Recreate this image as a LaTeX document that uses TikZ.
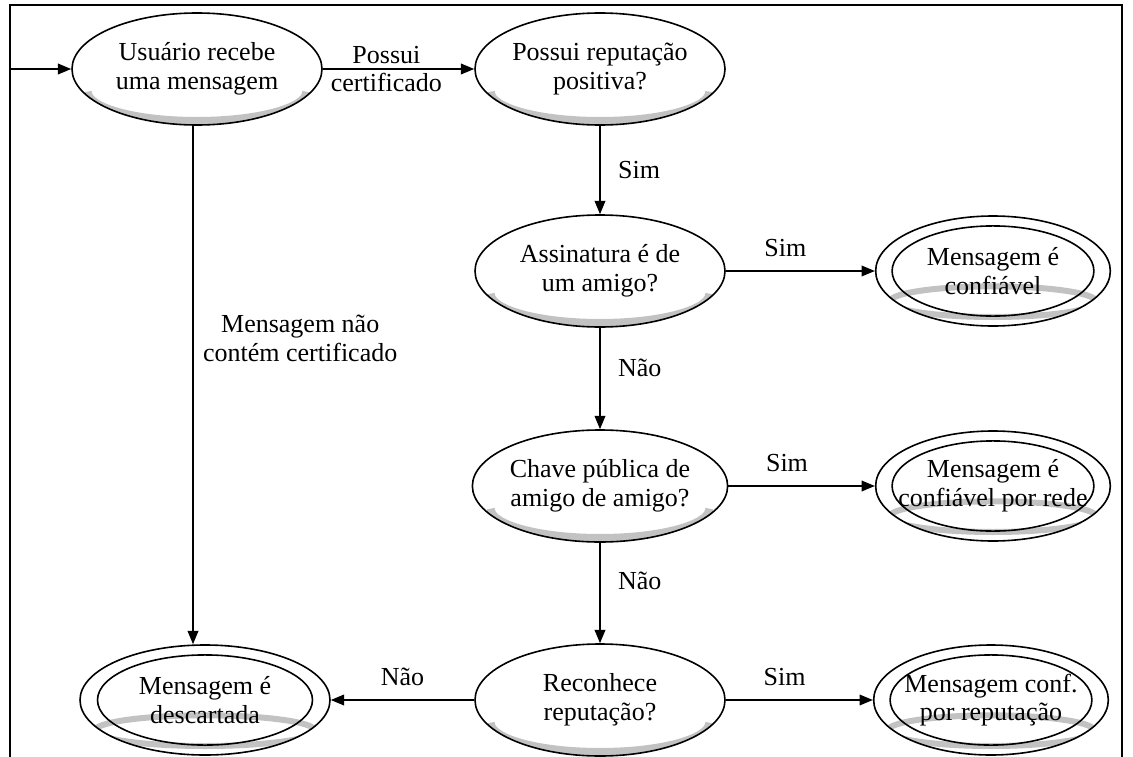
\documentclass[tikz,border=0pt]{standalone}
\usepackage{fontspec}
\setmainfont{Liberation Serif}
\usetikzlibrary{arrows.meta,shapes.geometric}
\definecolor{shadowgray}{gray}{0.76}
\begin{document}
\begin{tikzpicture}[x=0.75pt,y=-0.75pt,
  every node/.style={font=\fontsize{19.5}{21.5}\selectfont},
  state/.style={ellipse, draw, line width=1.2pt, fill=white,
    minimum width=187.5pt, minimum height=84pt, inner sep=0pt, align=center,
    path picture={
      \draw[draw=shadowgray, line width=6pt]
        ([shift={(-82pt,-17pt)}]path picture bounding box.center)
        arc[start angle=180, end angle=360, x radius=82pt, y radius=22pt];}},
  final/.style={ellipse, draw, line width=1.2pt, fill=white,
    minimum width=#1, minimum height=82.5pt, inner sep=0pt, inner xsep=-25pt,
    align=center,
    path picture={
      \draw[draw=shadowgray, line width=4.5pt]
        ([yshift=-23pt]path picture bounding box.center)
        ellipse[x radius=0.44*#1, y radius=11.5pt];
      \draw[line width=1.2pt] (path picture bounding box.center)
        ellipse[x radius=0.43*#1, y radius=33.8pt];}},
  arr/.style={line width=1.2pt, -{Triangle[length=10pt,width=8pt]}},
  lbl/.style={align=center, inner sep=1pt}]

\useasboundingbox (0,0) rectangle (1133,757);

% open frame around the flow
\draw[line width=1.6pt] (10,757) -- (10,5) -- (1122,5) -- (1122,757);

% states
\node[state] (recv) at (197,69) {Usuário recebe\\uma mensagem};
\node[state] (rep)  at (600,69) {Possui reputação\\positiva?};
\node[state] (sig)  at (600,271) {Assinatura é de\\um amigo?};
\node[state] (key)  at (600,486) {Chave pública de\\amigo de amigo?};
\node[state] (know) at (600,700) {Reconhece\\reputação?};

% final states
\node[final=187.5pt] (drop) at (205,700) {Mensagem é\\descartada};
\node[final=176pt] (ok)   at (993,271) {Mensagem é\\confiável};
\node[final=176pt] (okn)  at (993,486) {Mensagem é\\confiável por rede};
\node[final=176pt] (okr)  at (991,700) {Mensagem conf.\\por reputação};

\coordinate (entry) at (10,69);

% transitions
\draw[arr] (entry) -- (recv);
\draw[arr] (recv) -- node[lbl, pos=0.42] {Possui\\certificado} (rep);
\draw[arr] (rep) -- node[lbl, pos=0.5, anchor=west, xshift=12pt] {Sim} (sig);
\draw[arr] (sig) -- node[lbl, pos=0.4, above=9pt] {Sim} (ok);
\draw[arr] (sig) -- node[lbl, pos=0.4, anchor=west, xshift=12pt] {Não} (key);
\draw[arr] (key) -- node[lbl, pos=0.4, above=9pt] {Sim} (okn);
\draw[arr] (key) -- node[lbl, pos=0.38, anchor=west, xshift=12pt] {Não} (know);
\draw[arr] (know) -- node[lbl, pos=0.4, above=9pt] {Sim} (okr);
\draw[arr] (know) -- node[lbl, pos=0.5, above=9pt] {Não} (drop);
\draw[arr] ([xshift=-3pt]recv.south) -- node[lbl, pos=0.41, anchor=west, xshift=6pt]
  {Mensagem não\\contém certificado} ([xshift=-3pt]recv.south |- drop.north);
\end{tikzpicture}
\end{document}
